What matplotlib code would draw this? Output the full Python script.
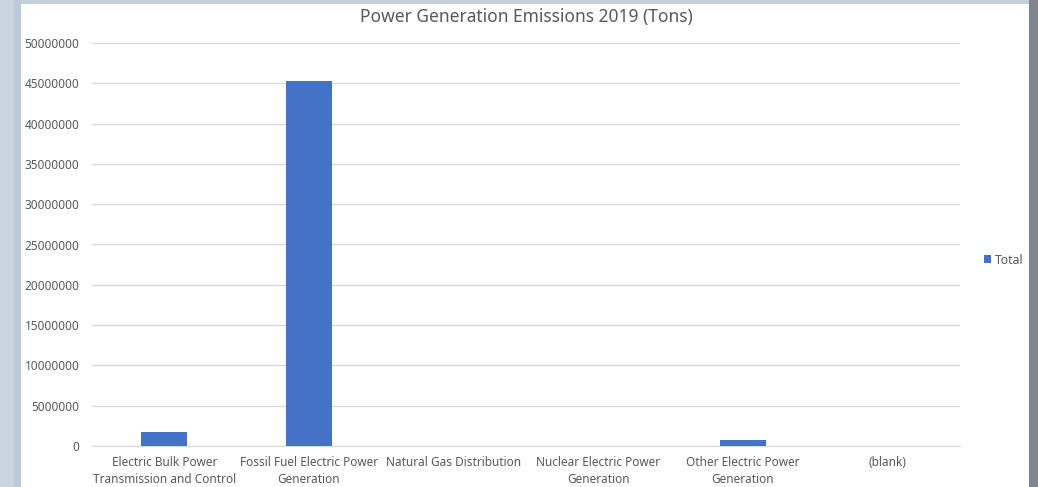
import matplotlib
matplotlib.use("Agg")
import matplotlib.pyplot as plt
from matplotlib.patches import Rectangle
import numpy as np

categories = [
    "Electric Bulk Power\nTransmission and Control",
    "Fossil Fuel Electric Power\nGeneration",
    "Natural Gas Distribution",
    "Nuclear Electric Power\nGeneration",
    "Other Electric Power\nGeneration",
    "(blank)",
]
totals = [1780000, 45300000, 0, 0, 740000, 0]
yticks = list(range(0, 50000001, 5000000))

plt.rcParams["font.family"] = ["Noto Sans", "DejaVu Sans"]
text_color = "#595959"
bar_color = "#4472c4"

fig = plt.figure(figsize=(10.38, 4.87), dpi=100)
fig.patch.set_facecolor("white")

# window frame around the chart area
W, H = 1038, 487
def frame(x0, y0, x1, y1, color):
    fig.patches.append(Rectangle((x0 / W, 1 - y1 / H), (x1 - x0) / W, (y1 - y0) / H,
                                 transform=fig.transFigure, facecolor=color,
                                 edgecolor="none", zorder=-10))
frame(0, 0, W, 4, "#c3cfdb")
frame(0, 0, 21, H, "#c9d5e0")
frame(14, 0, 21, H, "#bccad6")
frame(1029, 0, W, H, "#7e858d")

ax = fig.add_axes([92 / W, 1 - 446 / H, (960 - 92) / W, (446 - 43) / H])
x = np.arange(len(categories))
ax.bar(x, totals, width=0.32, color=bar_color, label="Total", zorder=3)

ax.set_xlim(-0.5, len(categories) - 0.5)
ax.set_ylim(0, 50000000)
ax.set_yticks(yticks)
ax.set_yticklabels([str(v) for v in yticks])
ax.set_xticks(x)
ax.set_xticklabels(categories, linespacing=1.45)
ax.yaxis.grid(True, color="#d9d9d9", linewidth=1)
ax.set_axisbelow(True)
for s in ["top", "right", "left"]:
    ax.spines[s].set_visible(False)
ax.spines["bottom"].set_color("#d9d9d9")
ax.tick_params(axis="both", length=0, colors=text_color, labelsize=8.5)
ax.tick_params(axis="y", pad=9)
ax.tick_params(axis="x", pad=7)

fig.text(526 / W, 1 - 17 / H, "Power Generation Emissions 2019 (Tons)",
         ha="center", va="center", fontsize=12.5, color=text_color)

leg = ax.legend(loc="center left", bbox_to_anchor=(984 / W, 1 - 260 / H),
                bbox_transform=fig.transFigure, frameon=False, fontsize=8.8,
                handlelength=0.6, handleheight=0.6, handletextpad=0.3,
                borderpad=0, borderaxespad=0)
for t in leg.get_texts():
    t.set_color(text_color)

fig.savefig("out.png", dpi=100)
